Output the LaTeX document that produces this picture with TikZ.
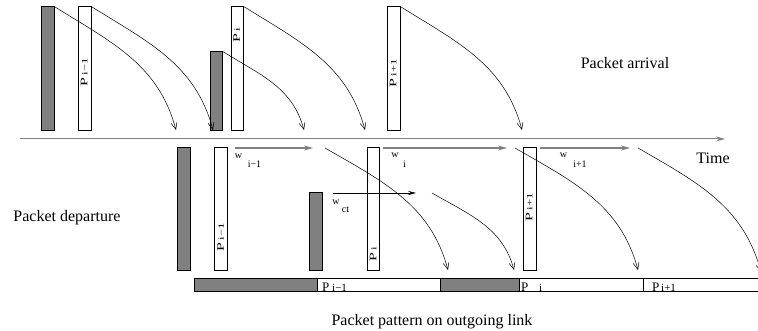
\documentclass[tikz,border=0pt]{standalone}
\usepackage{fontspec}
\setmainfont{Liberation Serif}
\usetikzlibrary{arrows.meta}
\definecolor{packetgray}{gray}{0.5}

\begin{document}
\begin{tikzpicture}[x=1pt,y=1pt,
  fullbar/.style={draw,fill=packetgray,line width=0.6pt,minimum width=12.5pt,inner sep=0,anchor=south west},
  emptybar/.style={fullbar,fill=white},
  barlabel/.style={rotate=90,xscale=1.6,anchor=west,inner sep=0,font=\fontsize{10}{10}\selectfont},
  linkpart/.style={draw,line width=0.6pt,minimum height=13pt,inner sep=0,anchor=south west},
  flight/.style={-{Straight Barb[length=7pt,width=6pt]},line width=0.5pt},
  gap/.style={draw=packetgray,line width=1.3pt,-{Stealth[length=9pt,width=5pt,inset=3pt]}},
  caption/.style={font=\fontsize{16}{16}\selectfont,anchor=base},
  wname/.style={font=\fontsize{10}{10}\selectfont,inner sep=0},
  pname/.style={font=\fontsize{13}{13}\selectfont,inner sep=0,anchor=base west},
  psub/.style={font=\fontsize{11}{11}\selectfont,inner sep=0,anchor=base west}]
\clip (0,0) rectangle (758,-331);

%% packet arrival
\node[fullbar,minimum height=124pt] (ga1) at (41,-131) {};
\node[emptybar,minimum height=124pt] (pa1) at (78,-131) {};
\node[fullbar,minimum height=79pt] (ga2) at (209.5,-131) {};
\node[emptybar,minimum height=124pt] (pa2) at (230.5,-131) {};
\node[emptybar,minimum height=124pt] (pa3) at (387,-131) {};
\node[barlabel] (la1) at (84,-87) {P\,{\fontsize{8}{8}\selectfont i−1}};
\node[barlabel] (la2) at (236.5,-43) {P\,{\fontsize{8}{8}\selectfont i}};
\node[barlabel] (la3) at (393,-88) {P\,{\fontsize{8}{8}\selectfont i+1}};
\node[caption] (arr) at (625,-69) {Packet arrival};

\coordinate (aa1) at (176,-130);
\coordinate (aa2) at (213,-130);
\coordinate (aa3) at (304,-130);
\coordinate (aa4) at (365,-130);
\coordinate (aa5) at (522,-130);
\draw[flight] (ga1.north east) to[out=-32,in=105] (aa1);
\draw[flight] (pa1.north east) to[out=-32,in=105] (aa2);
\draw[flight] (ga2.north east) to[out=-32,in=105] (aa3);
\draw[flight] (pa2.north east) to[out=-32,in=105] (aa4);
\draw[flight] (pa3.north east) to[out=-32,in=105] (aa5);

%% time axis
\coordinate (t0) at (20,-139);
\coordinate (t1) at (725,-139);
\draw[draw=packetgray,line width=1pt,-{Stealth[length=9pt,width=5pt,inset=3pt]}] (t0) -- (t1);
\node[caption] (time) at (713,-164) {Time};

%% packet departure
\node[fullbar,minimum height=123pt] (gd1) at (177,-271) {};
\node[emptybar,minimum height=123pt] (pd1) at (214,-271) {};
\node[fullbar,minimum height=78pt] (gd2) at (309,-271) {};
\node[emptybar,minimum height=123pt] (pd2) at (366.5,-271) {};
\node[emptybar,minimum height=123pt] (pd3) at (523,-271) {};
\node[barlabel] (ld1) at (220.5,-252) {P\,{\fontsize{8}{8}\selectfont i−1}};
\node[barlabel] (ld2) at (373,-262) {P\,{\fontsize{8}{8}\selectfont i}};
\node[barlabel] (ld3) at (529,-222) {P\,{\fontsize{8}{8}\selectfont i+1}};
\node[caption] (dep) at (67,-222) {Packet departure};

%% gaps between departures
\coordinate (w1a) at (235,-148);
\coordinate (w1b) at (313,-148);
\coordinate (w2a) at (383,-148);
\coordinate (w2b) at (507,-148);
\coordinate (w3a) at (540,-148);
\coordinate (w3b) at (630,-148);
\coordinate (wca) at (333,-193);
\coordinate (wcb) at (416,-193);
\draw[gap] (w1a) -- (w1b);
\draw[gap] (w2a) -- (w2b);
\draw[gap] (w3a) -- (w3b);
\draw[line width=0.6pt,-{Stealth[length=8pt,width=4pt,inset=3pt]}] (wca) -- (wcb);
\node[wname] (w1) at (238.5,-156.5) {w};
\node[wname] (w1s) at (254.5,-164.5) {i−1};
\node[wname] (w2) at (395,-155.5) {w};
\node[wname] (w2s) at (404.5,-164) {i};
\node[wname] (w3) at (563.5,-155.5) {w};
\node[wname] (w3s) at (580,-164) {i+1};
\node[wname] (wc) at (336,-202.5) {w};
\node[wname] (wcs) at (345.5,-210) {ct};

%% outgoing link
\node[linkpart,fill=packetgray,minimum width=123pt] (lk1) at (194,-292) {};
\node[linkpart,fill=white,minimum width=123pt] (lk2) at (317,-292) {};
\node[linkpart,fill=packetgray,minimum width=79pt] (lk3) at (440,-292) {};
\node[linkpart,fill=white,minimum width=124pt] (lk4) at (519,-292) {};
\node[linkpart,fill=white,minimum width=130pt] (lk5) at (643,-292) {};
\node[pname] (lp1) at (322,-291) {P};
\node[psub] (lp1s) at (332,-291) {i−1};
\node[pname] (lp2) at (521,-291) {P};
\node[psub] (lp2s) at (539,-291) {i};
\node[pname] (lp3) at (652,-291) {P};
\node[psub] (lp3s) at (661,-291) {i+1};
\node[caption] (pat) at (432,-325) {Packet pattern on outgoing link};

\coordinate (ds1) at (325,-148);
\coordinate (de1) at (448,-270);
\coordinate (ds2) at (432,-193);
\coordinate (de2) at (514,-270);
\coordinate (ds3) at (515,-148);
\coordinate (de3) at (638,-270);
\coordinate (ds4) at (638,-148);
\coordinate (de4) at (761,-272);
\draw[flight] (ds1) to[out=-30,in=105] (de1);
\draw[flight] (ds2) to[out=-30,in=105] (de2);
\draw[flight] (ds3) to[out=-30,in=105] (de3);
\draw[flight] (ds4) to[out=-30,in=105] (de4);

\end{tikzpicture}
\end{document}
